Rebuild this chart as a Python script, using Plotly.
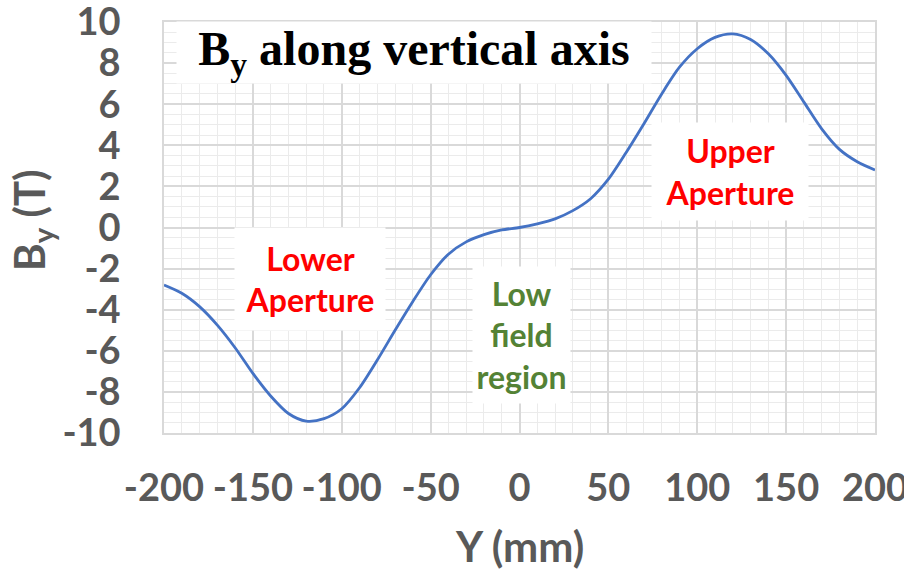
import plotly.graph_objects as go

# Vertical position along the axis (mm) and the measured field By (T)
y_mm = [-200, -190, -180, -170, -160, -150, -140, -130, -120, -110,
        -100, -90, -80, -70, -60, -50, -40, -30, -20, -10,
        0, 10, 20, 30, 40, 50, 60, 70, 80, 90,
        100, 110, 120, 130, 140, 150, 160, 170, 180, 190, 200]
by_T = [-2.80, -3.20, -3.85, -4.75, -5.85, -7.10, -8.20, -9.05, -9.42, -9.30,
        -8.82, -7.80, -6.45, -5.00, -3.60, -2.30, -1.30, -0.70, -0.35, -0.12,
        0.00, 0.18, 0.42, 0.82, 1.40, 2.35, 3.65, 5.05, 6.50, 7.80,
        8.70, 9.25, 9.42, 9.15, 8.45, 7.40, 6.10, 4.80, 3.80, 3.20, 2.80]

x_ticks = [-200, -150, -100, -50, 0, 50, 100, 150, 200]
y_ticks = [-10, -8, -6, -4, -2, 0, 2, 4, 6, 8, 10]

GREY = "#595959"
MAJOR = "#d9d9d9"
MINOR = "#ebebeb"
SANS = "Lato"

fig = go.Figure()
fig.add_trace(go.Scatter(
    x=y_mm, y=by_T, mode="lines",
    line=dict(color="#4472C4", width=2.8, shape="spline", smoothing=0.8),
    showlegend=False, hoverinfo="skip",
))

tick_font = dict(family=SANS, size=38, color=GREY, weight="bold")

fig.update_xaxes(
    range=[-200, 200], tickvals=x_ticks, ticktext=[str(v) for v in x_ticks],
    showgrid=True, gridcolor=MAJOR, gridwidth=1.5,
    minor=dict(dtick=10, showgrid=True, gridcolor=MINOR, gridwidth=1.3),
    showline=True, linecolor=MAJOR, linewidth=1.5, mirror=True,
    zeroline=False, ticks="", tickfont=tick_font, ticklabelstandoff=21,
    ticklabeloverflow="allow",
)
fig.update_yaxes(
    range=[-10, 10], tickvals=y_ticks, ticktext=[str(v) for v in y_ticks],
    showgrid=True, gridcolor=MAJOR, gridwidth=1.5,
    minor=dict(dtick=0.5, showgrid=True, gridcolor=MINOR, gridwidth=1.3),
    showline=True, linecolor=MAJOR, linewidth=1.5, mirror=True,
    zeroline=False, ticks="", tickfont=tick_font, ticklabelstandoff=34,
    ticklabeloverflow="allow",
)

annotations = [
    # chart title in a white box
    dict(x=-59.4, y=8.52, text="<b>B<sub>y</sub> along vertical axis</b>",
         font=dict(family="Liberation Serif", size=48, color="black"),
         width=474, height=61),
    dict(x=-117.9, y=-2.51, text="<b>Lower<br>Aperture</b>",
         font=dict(family=SANS, size=32, color="#FF0000"),
         width=150, height=102),
    dict(x=118.4, y=2.72, text="<b>Upper<br>Aperture</b>",
         font=dict(family=SANS, size=32, color="#FF0000"),
         width=156, height=97),
    dict(x=1.1, y=-5.23, text="<b>Low<br>field<br>region</b>",
         font=dict(family=SANS, size=32, color="#548235"),
         width=97, height=136),
]
for a in annotations:
    fig.add_annotation(xref="x", yref="y", showarrow=False,
                       bgcolor="white", borderpad=0, align="center",
                       xanchor="center", yanchor="middle", **a)

# axis titles
fig.add_annotation(xref="paper", yref="paper", x=(519 - 164) / 711, y=-(546 - 433) / 411,
                   text="<b>Y (mm)</b>", showarrow=False, xanchor="center", yanchor="middle",
                   font=dict(family=SANS, size=42, color=GREY))
fig.add_annotation(xref="paper", yref="paper", x=-(164 - 32) / 711, y=(433 - 220) / 411,
                   text="<b>B<sub>y</sub> (T)</b>", showarrow=False, textangle=-90,
                   xanchor="center", yanchor="middle",
                   font=dict(family=SANS, size=42, color=GREY))

fig.update_layout(
    width=904, height=570,
    margin=dict(l=164, r=29, t=22, b=137, autoexpand=False),
    paper_bgcolor="white", plot_bgcolor="white",
)

fig.write_html("out.html")
